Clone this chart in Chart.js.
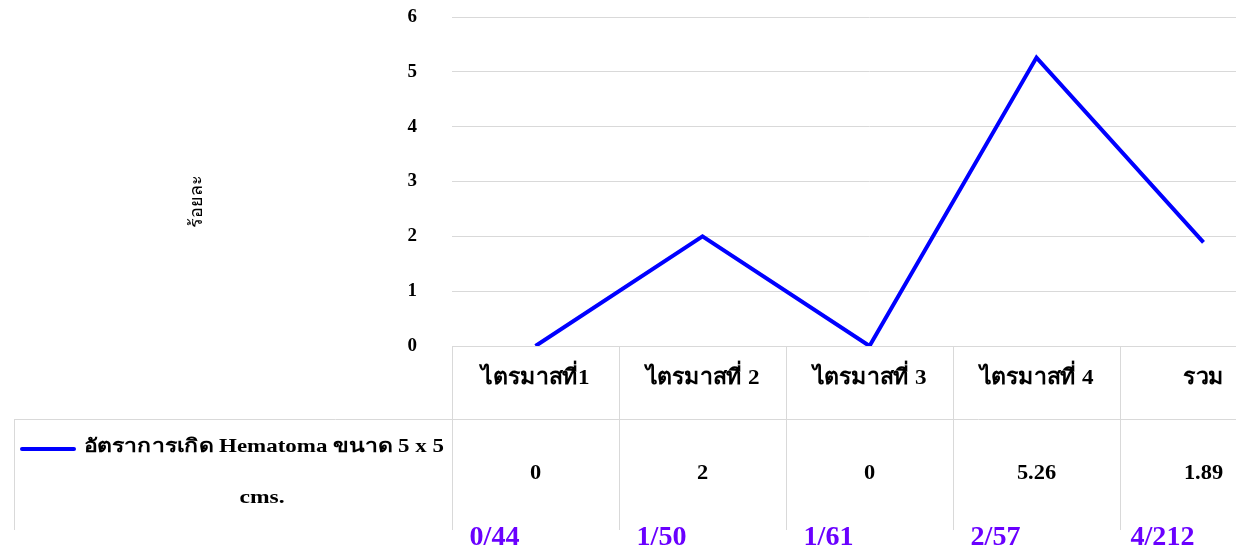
<!DOCTYPE html>
<html>
<head>
<meta charset="utf-8">
<script src="https://cdn.jsdelivr.net/npm/chart.js@4.4.0/dist/chart.umd.min.js"></script>
<style>
  html, body { margin: 0; padding: 0; background: #fff; overflow: hidden; }
  #wrap { width: 1300px; height: 548px; position: relative; }
</style>
</head>
<body>
<div id="wrap"><canvas id="grafica"></canvas></div>
<script>
// Datos del gráfico
const categorias = ["ไตรมาสที่1", "ไตรมาสที่ 2", "ไตรมาสที่ 3", "ไตรมาสที่ 4", "รวม"];
const valores = [0, 2, 0, 5.26, 1.89];
const casos = [0, 1, 1, 2, 4];
const totales = [44, 50, 61, 57, 212];
const ticksY = [0, 1, 2, 3, 4, 5, 6];
const nombreSerie = "อัตราการเกิด Hematoma ขนาด 5 x 5";
const nombreSerie2 = "cms.";
const tituloY = "ร้อยละ";

const fuente = "'Liberation Serif', 'Noto Sans', serif";
const gris = "#d9d9d9";

// Dibuja texto estirado horizontalmente (la fuente original es más ancha)
function textoAncho(ctx, texto, x, y, escala, alinear) {
    const w = ctx.measureText(texto).width * escala;
    let x0 = x;
    if (alinear === "center") x0 = x - w / 2;
    ctx.save();
    ctx.translate(x0, y);
    ctx.scale(escala, 1);
    ctx.textAlign = "left";
    ctx.fillText(texto, 0, 0);
    ctx.restore();
}

// Plugin para dibujar la tabla de datos debajo de la gráfica
const tablaDatos = {
    id: "tablaDatos",
    afterDraw(chart) {
        const ctx = chart.ctx;
        const area = chart.chartArea;
        const x = chart.scales.x;
        const ancho = chart.width;
        const n = categorias.length;
        const paso = (area.right - area.left) / n;
        const filaY = 419;
        const finY = 530;

        ctx.save();
        ctx.strokeStyle = gris;
        ctx.lineWidth = 1;
        ctx.beginPath();
        ctx.moveTo(area.left, area.bottom + 0.5);
        ctx.lineTo(ancho, area.bottom + 0.5);
        ctx.moveTo(14, filaY + 0.5);
        ctx.lineTo(ancho, filaY + 0.5);
        ctx.moveTo(14.5, filaY);
        ctx.lineTo(14.5, finY);
        for (let i = 0; i <= n; i++) {
            const px = Math.round(area.left + i * paso) + 0.5;
            ctx.moveTo(px, area.bottom);
            ctx.lineTo(px, finY);
        }
        ctx.stroke();

        // etiquetas de categorías y valores
        ctx.fillStyle = "#000";
        ctx.textBaseline = "middle";
        categorias.forEach((c, i) => {
            const cx = x.getPixelForValue(i);
            ctx.font = "bold 22px " + fuente;
            textoAncho(ctx, c, cx, 378, 1.05, "center");
            ctx.font = "bold 20px " + fuente;
            textoAncho(ctx, String(valores[i]), cx, 474, 1.12, "center");
        });

        // leyenda
        ctx.strokeStyle = "#0000ff";
        ctx.lineWidth = 4;
        ctx.lineCap = "round";
        ctx.beginPath();
        ctx.moveTo(22, 449);
        ctx.lineTo(74, 449);
        ctx.stroke();
        ctx.font = "bold 19px " + fuente;
        const wLeyenda = ctx.measureText(nombreSerie).width;
        textoAncho(ctx, nombreSerie, 84, 447, 360 / wLeyenda, "left");
        textoAncho(ctx, nombreSerie2, 262, 498, 1.24, "center");

        // fracciones en morado
        ctx.fillStyle = "#6a00ff";
        ctx.font = "bold 27px " + fuente;
        ctx.textBaseline = "alphabetic";
        categorias.forEach((c, i) => {
            const cx = x.getPixelForValue(i) - 41;
            textoAncho(ctx, casos[i] + "/" + totales[i], cx, 545, 1.04, "center");
        });

        // título del eje Y
        ctx.fillStyle = "#000";
        ctx.font = "18px " + fuente;
        ctx.translate(197, 201);
        ctx.rotate(-Math.PI / 2);
        ctx.textAlign = "center";
        ctx.textBaseline = "middle";
        ctx.fillText(tituloY, 0, 0);
        ctx.restore();
    }
};

const canvas = document.getElementById("grafica");
const ctx = canvas.getContext("2d");

const config = {
    type: "line",
    data: {
        labels: categorias,
        datasets: [
            {
                label: nombreSerie + " " + nombreSerie2,
                data: valores,
                borderColor: "#0000ff",
                borderWidth: 4,
                pointRadius: 0,
                tension: 0,
                fill: false,
            },
        ],
    },
    options: {
        responsive: true,
        maintainAspectRatio: false,
        animation: false,
        layout: {
            padding: { left: 0, top: 17, right: 13, bottom: 202 },
        },
        plugins: {
            legend: { display: false },
            tooltip: { enabled: false },
        },
        scales: {
            x: {
                type: "category",
                display: false,
                offset: true,
            },
            y: {
                min: 0,
                max: 6,
                afterFit: (scale) => { scale.width = 452; },
                afterBuildTicks: (scale) => {
                    scale.ticks = ticksY.map((v) => ({ value: v }));
                },
                border: { display: false },
                grid: {
                    color: gris,
                    lineWidth: 1,
                    drawTicks: true,
                    tickLength: 33,
                    tickColor: "rgba(0,0,0,0)",
                },
                ticks: {
                    padding: 2,
                    color: "#000",
                    font: { family: fuente, size: 19, weight: "bold" },
                },
            },
        },
    },
    plugins: [tablaDatos],
};

let chart = new Chart(ctx, config);
</script>
</body>
</html>
